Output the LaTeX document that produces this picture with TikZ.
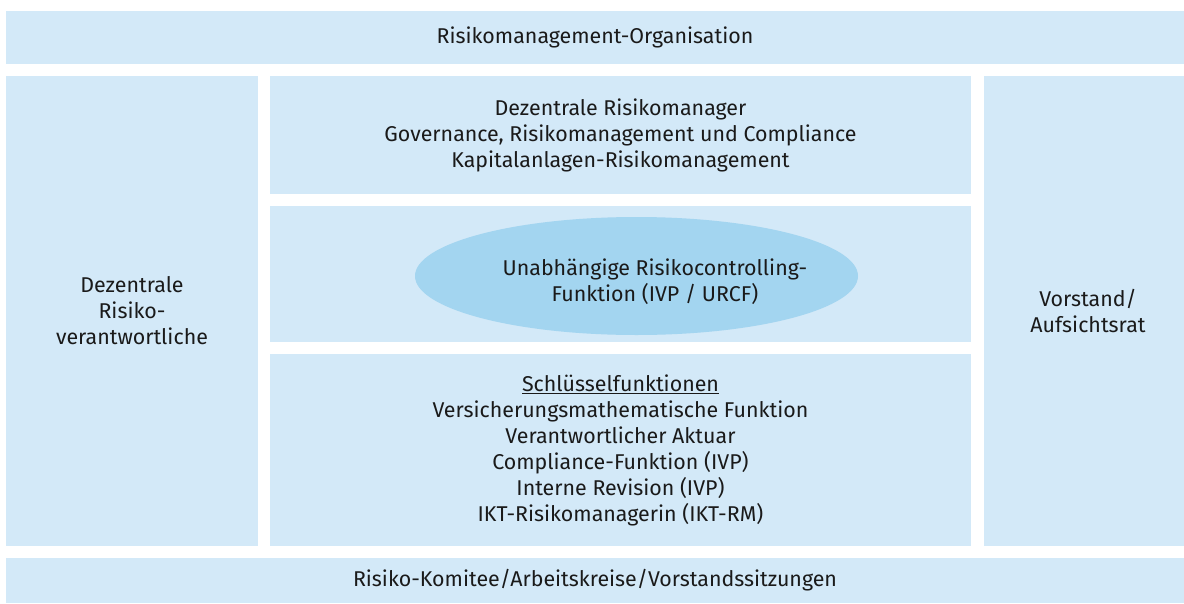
\documentclass[tikz,border=0pt]{standalone}
\usepackage{fontspec}
\setmainfont{Fira Sans}
\usepackage{xcolor}
\usepackage{tikz}
\usetikzlibrary{
    shapes.geometric
}
\definecolor{feldblau}{HTML}{D3E9F8}
\definecolor{ovalblau}{HTML}{A3D5F0}
\definecolor{schrift}{HTML}{1A1A1A}

\begin{document}
\begin{tikzpicture}[x=1pt,y=-1pt,font=\fontsize{21.4}{26}\selectfont,text=schrift]
    \tikzstyle{feld}=[rectangle, fill=feldblau, inner sep=0pt, outer sep=0pt, align=center]
    \tikzstyle{oval}=[ellipse, fill=ovalblau, inner sep=0pt, outer sep=0pt]
    \useasboundingbox (0,0) rectangle (1184,603);
	\node[feld, minimum width=1178, minimum height=53] (orga) at (595, 37.5) {Risikomanagement-Organisation};

	\node[feld, minimum width=252, minimum height=470] (dezverantw) at (132, 311) {Dezentrale\\ Risiko-\\ verantwortliche};
	\node[feld, minimum width=200, minimum height=470] (vorstand) at (1084, 311) {};
	\node[align=center] (vorstandtext) at (1088, 311) {Vorstand/\\ Aufsichtsrat};

	\node[feld, minimum width=701, minimum height=118] (dezmanager) at (620.5, 135) {Dezentrale Risikomanager\\ Governance, Risikomanagement und Compliance\\ Kapitalanlagen-Risikomanagement};
	\node[feld, minimum width=701, minimum height=136] (urcfbox) at (620.5, 274) {};
	\node[oval, minimum width=443, minimum height=118] (urcf) at (636.5, 276) {};
	\node[align=center] (urcftext) at (655, 282) {Unabhängige Risikocontrolling-\\ Funktion (IVP / URCF)};

	\node[feld, minimum width=701, minimum height=192] (schluessel) at (620.5, 450) {\underline{Schlüsselfunktionen}\\ Versicherungsmathematische Funktion\\ Verantwortlicher Aktuar\\ Compliance-Funktion (IVP)\\ Interne Revision (IVP)\\ IKT-Risikomanagerin (IKT-RM)};

	\node[feld, minimum width=1178, minimum height=45] (komitee) at (595, 580.5) {Risiko-Komitee/Arbeitskreise/Vorstandssitzungen};
\end{tikzpicture}
\end{document}
